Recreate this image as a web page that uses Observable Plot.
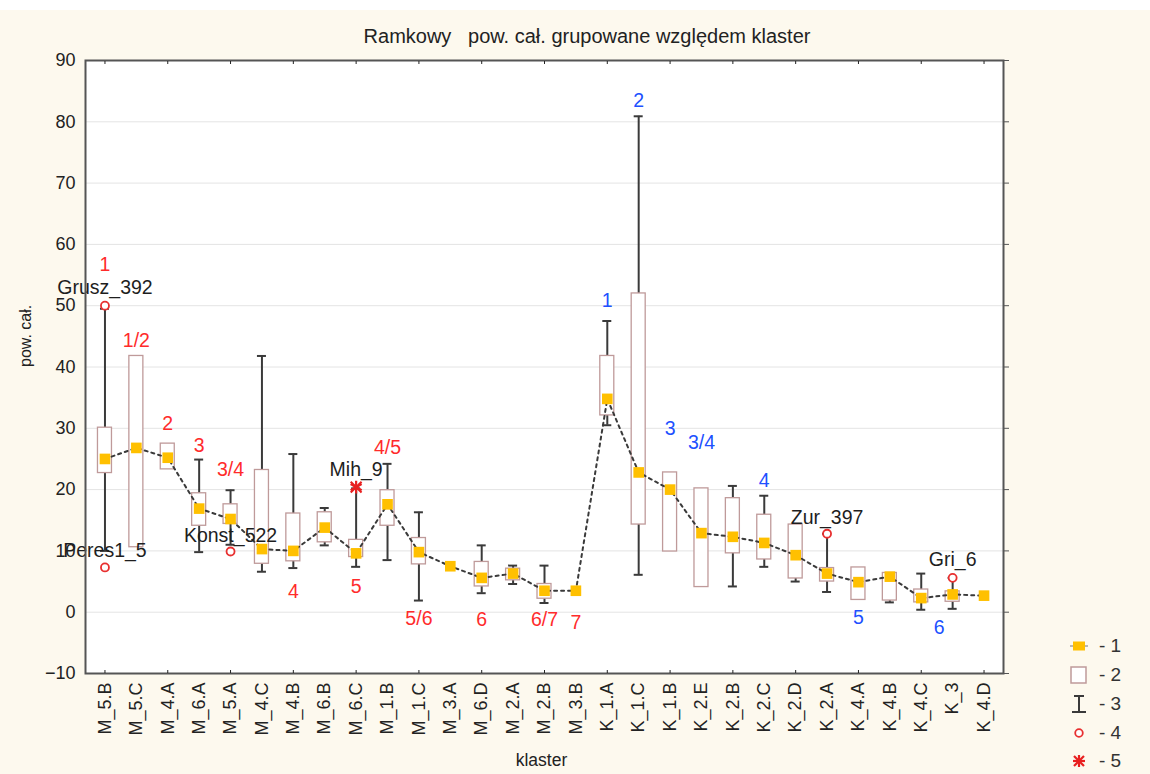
<!DOCTYPE html>
<html>
<head>
<meta charset="utf-8">
<script src="https://cdn.jsdelivr.net/npm/d3@7"></script>
<script src="https://cdn.jsdelivr.net/npm/@observablehq/plot@0.6"></script>
<style>
  html, body { margin: 0; padding: 0; background: #ffffff; }
  #wrap { position: relative; width: 1150px; height: 774px; overflow: hidden; background: #ffffff; font-family: "Liberation Sans", Arial, sans-serif; }
  #bg { position: absolute; left: 0; top: 10px; width: 1150px; height: 764px; background: #fdf9ee; }
  #title { position: absolute; top: 25px; left: 587px; transform: translateX(-50%); font-size: 20px; color: #222; white-space: pre; }
  #chart { position: absolute; left: 0; top: 0; }
  #legend { position: absolute; left: 1068px; top: 632px; font-size: 19px; color: #333; }
  #legend .row { height: 28.75px; display: flex; align-items: center; }
  #legend svg { width: 22px; height: 22px; margin-right: 9px; }
</style>
</head>
<body>
<div id="wrap">
  <div id="bg"></div>
  <div id="chart"></div>
  <div id="title">Ramkowy   pow. cał. grupowane względem klaster</div>
  <div id="legend"></div>
</div>
<script>
// ---- data ----
const categories = ["M_5.B","M_5.C","M_4.A","M_6.A","M_5.A","M_4.C","M_4.B","M_6.B","M_6.C","M_1.B","M_1.C","M_3.A","M_6.D","M_2.A","M_2.B","M_3.B",
  "K_1.A","K_1.C","K_1.B","K_2.E","K_2.B","K_2.C","K_2.D","K_2.A","K_4.A","K_4.B","K_4.C","K_3","K_4.D"];
const medians     = [25.0,26.8,25.2,16.9,15.2,10.3,10.0,13.8, 9.6,17.6, 9.8,7.5,5.6,6.3,3.5,3.5, 34.8,22.8,20.0,12.9,12.3,11.3, 9.3,6.3,4.9,5.8,2.3,2.9,2.7];
const boxHigh     = [30.1,41.8,27.5,19.4,17.6,23.2,16.1,16.3,11.8,19.9,12.1,null,8.2,7.1,4.6,null, 41.8,52.0,22.8,20.2,18.6,15.9,14.3,7.2,7.3,6.4,3.7,3.4,null];
const boxLow      = [22.7,10.6,23.3,14.1,14.4, 7.9, 8.3,11.4, 9.0,14.1, 7.8,null,4.2,5.2,2.2,null, 32.1,14.3, 9.9, 4.1, 9.6, 8.6, 5.5,5.0,2.0,1.9,1.6,1.7,null];
const whiskerHigh = [49.5,41.8,27.5,24.9,19.9,41.8,25.8,17.0,20.2,24.2,16.3,null,10.9,7.6,7.6,null, 47.5,80.9,22.8,20.2,20.6,19.0,14.3,12.8,7.3,6.4,6.3,5.6,null];
const whiskerLow  = [10.0,10.6,23.3, 9.8,11.0, 6.6, 7.2,10.9, 7.4, 8.5, 1.9,null,3.1,4.6,1.5,null, 30.5, 6.1, 9.9, 4.1, 4.2, 7.4, 5.0,3.3,2.0,1.6,0.4,0.55,null];

const outlierCats   = ["M_5.B","M_5.B","M_5.A","K_2.A","K_3"];
const outlierValues = [50.0, 7.3, 9.9, 12.8, 5.6];
const extremeCats   = ["M_6.C"];
const extremeValues = [20.4];

const caseLabels      = ["Grusz_392","Peres1_5","Konst_522","Mih_9","Zur_397","Gri_6"];
const caseLabelCats   = ["M_5.B","M_5.B","M_5.A","M_6.C","K_2.A","K_3"];
const caseLabelValues = [53.0, 10.1, 12.5, 23.3, 15.4, 8.5];

const mLabels      = ["1","1/2","2","3","3/4","4","5","4/5","5/6","6","6/7","7"];
const mLabelCats   = ["M_5.B","M_5.C","M_4.A","M_6.A","M_5.A","M_4.B","M_6.C","M_1.B","M_1.C","M_6.D","M_2.B","M_3.B"];
const mLabelValues = [56.6, 44.3, 30.8, 27.1, 23.2, 3.3, 4.1, 26.9, -1.0, -1.2, -1.2, -1.8];

const kLabels      = ["1","2","3","3/4","4","5","6"];
const kLabelCats   = ["K_1.A","K_1.C","K_1.B","K_2.E","K_2.C","K_4.A","K_4.C"];
const kLabelValues = [50.8, 83.5, 30.0, 27.6, 21.5, -0.9, -2.5];

const yTicks = [-10,0,10,20,30,40,50,60,70,80,90];
const legendLabels = ["- 1","- 2","- 3","- 4","- 5"];

// ---- tables ----
const rows = categories.map((c, i) => ({cat: c, med: medians[i], q3: boxHigh[i], q1: boxLow[i], whi: whiskerHigh[i], wlo: whiskerLow[i]}));
const boxed = rows.filter(d => d.q1 != null);
const outliers = outlierCats.map((c, i) => ({cat: c, v: outlierValues[i]}));
const extremes = extremeCats.map((c, i) => ({cat: c, v: extremeValues[i]}));
const cases = caseLabels.map((t, i) => ({cat: caseLabelCats[i], v: caseLabelValues[i], t}));
const mLab = mLabels.map((t, i) => ({cat: mLabelCats[i], v: mLabelValues[i], t}));
const kLab = kLabels.map((t, i) => ({cat: kLabelCats[i], v: kLabelValues[i], t}));
const evenCats = categories.filter((c, i) => i % 2 === 0);

const RED = "#ff2b2b", BLUE = "#2050ff", WH = "#3a3a3a", BOX = "#bf9a9a", ORANGE = "#ffc000";
const bw = 918 / (29 + 2 * 0.12);
const boxInset = (bw - 14) / 2, capInset = (bw - 9) / 2;

const chart = Plot.plot({
  width: 1150, height: 774,
  marginTop: 60, marginBottom: 101, marginLeft: 85, marginRight: 147,
  style: {background: "transparent", fontFamily: "'Liberation Sans', Arial, sans-serif", color: "#222"},
  x: {type: "band", domain: categories, paddingInner: 0, paddingOuter: 0.12, round: false, label: null},
  y: {domain: [-10, 90], label: null},
  marks: [
    Plot.frame({fill: "white", stroke: null}),
    Plot.gridY(yTicks, {stroke: "#e4e4e4", strokeOpacity: 1}),
    Plot.ruleX(boxed.filter(d => d.whi > d.q3), {x: "cat", y1: "q3", y2: "whi", stroke: WH, strokeWidth: 2}),
    Plot.ruleX(boxed.filter(d => d.wlo < d.q1), {x: "cat", y1: "wlo", y2: "q1", stroke: WH, strokeWidth: 2}),
    Plot.tickY(boxed.filter(d => d.whi > d.q3), {x: "cat", y: "whi", stroke: WH, strokeWidth: 2, insetLeft: capInset, insetRight: capInset}),
    Plot.tickY(boxed.filter(d => d.wlo < d.q1), {x: "cat", y: "wlo", stroke: WH, strokeWidth: 2, insetLeft: capInset, insetRight: capInset}),
    Plot.barY(boxed, {x: "cat", y1: "q1", y2: "q3", fill: "white", stroke: BOX, strokeWidth: 1.3, insetLeft: boxInset, insetRight: boxInset}),
    Plot.line(rows, {x: "cat", y: "med", stroke: "#3a3a3a", strokeWidth: 2, strokeDasharray: "3,4"}),
    Plot.dot(rows, {x: "cat", y: "med", symbol: "square", r: 6, fill: ORANGE, stroke: null}),
    Plot.dot(outliers, {x: "cat", y: "v", r: 4, stroke: "#e83030", strokeWidth: 1.8, fill: "white"}),
    Plot.dot(extremes, {x: "cat", y: "v", symbol: "asterisk", r: 6, stroke: "#e82020", strokeWidth: 2.2}),
    Plot.dot(extremes, {x: "cat", y: "v", symbol: "times", r: 5, stroke: "#e82020", strokeWidth: 2}),
    Plot.text(cases, {x: "cat", y: "v", text: "t", fontSize: 19.5, fill: "#1e1e1e"}),
    Plot.text(mLab, {x: "cat", y: "v", text: "t", fontSize: 19.5, fill: RED}),
    Plot.text(kLab.filter(d => d.t !== "6"), {x: "cat", y: "v", text: "t", fontSize: 19.5, fill: BLUE}),
    Plot.text(kLab.filter(d => d.t === "6"), {x: "cat", y: "v", text: "t", fontSize: 19.5, fill: BLUE, dx: 18}),
    Plot.frame({stroke: "#555", strokeWidth: 2}),
    Plot.axisY({ticks: yTicks, tickSize: 0, tickPadding: 10, fontSize: 18, label: null}),
    Plot.axisY({anchor: "right", ticks: yTicks, tickSize: 5, tickFormat: () => "", label: null, stroke: "#555"}),
    Plot.axisX({ticks: categories, tickRotate: -90, tickSize: 0, tickPadding: 9, fontSize: 18, label: null}),
    Plot.axisX({anchor: "bottom", ticks: evenCats, tickSize: -3, tickFormat: () => "", label: null}),
    Plot.axisX({anchor: "top", ticks: evenCats, tickSize: -3, tickFormat: () => "", label: null}),
    Plot.text(["pow. cał."], {frameAnchor: "left", dx: -60, rotate: -90, fontSize: 16, fill: "#222"}),
    Plot.text(["klaster"], {frameAnchor: "bottom", dy: 92, dx: -3, fontSize: 17.5, fill: "#222"})
  ]
});
document.getElementById("chart").appendChild(chart);

// ---- legend ----
const icons = [
  `<svg viewBox="0 0 22 22"><line x1="2" y1="11" x2="20" y2="11" stroke="#777" stroke-width="1"/><rect x="5" y="6.5" width="12" height="9" fill="${ORANGE}"/></svg>`,
  `<svg viewBox="0 0 22 22"><rect x="3" y="3" width="15" height="16" fill="white" stroke="${BOX}" stroke-width="1.5"/></svg>`,
  `<svg viewBox="0 0 22 22"><line x1="6" y1="3" x2="16" y2="3" stroke="${WH}" stroke-width="2"/><line x1="11" y1="3" x2="11" y2="19" stroke="${WH}" stroke-width="2"/><line x1="4" y1="19" x2="18" y2="19" stroke="${WH}" stroke-width="2"/></svg>`,
  `<svg viewBox="0 0 22 22"><circle cx="11" cy="11" r="3.8" fill="white" stroke="#e83030" stroke-width="1.8"/></svg>`,
  `<svg viewBox="0 0 22 22"><g stroke="#e82020" stroke-width="2.2"><line x1="11" y1="5" x2="11" y2="17"/><line x1="6" y1="6" x2="16" y2="16"/><line x1="16" y1="6" x2="6" y2="16"/><line x1="5" y1="11" x2="17" y2="11"/></g></svg>`
];
document.getElementById("legend").innerHTML = legendLabels.map((l, i) => `<div class="row">${icons[i]}<span>${l}</span></div>`).join("");
</script>
</body>
</html>
